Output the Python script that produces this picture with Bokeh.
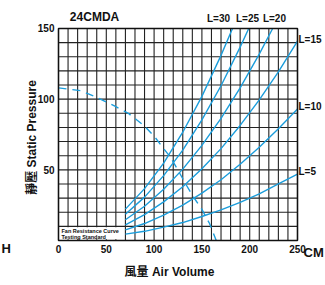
from bokeh.plotting import figure
from bokeh.models import Range1d, Label, FixedTicker
from bokeh.embed import file_html
from bokeh.resources import INLINE

# ---- data ----
x_ticks = [0, 50, 100, 150, 200, 250]
y_ticks = [50, 100, 150]
x_grid = list(range(0, 251, 10))
y_grid = list(range(0, 151, 10))
X_MAX = 250
Y_MAX = 150

fan_x = [0, 23, 41, 59, 73, 90, 101, 110, 117, 124, 133, 141, 150, 158, 165]
fan_y = [108, 106, 101, 95, 90, 81, 73, 65, 59, 51, 40, 31, 22, 12, 0]

l5_x = [70, 90, 110, 130, 150, 170, 190, 210, 230, 250]
l5_y = [4.5, 6.5, 9.5, 12.7, 17, 21.7, 27, 33, 40, 47]
l10_x = [70, 90, 110, 130, 150, 170, 190, 210, 230, 250]
l10_y = [7.5, 12, 18, 25, 33.5, 43, 54, 66, 79, 93]
l15_x = [70, 90, 110, 130, 150, 170, 190, 210, 230, 250]
l15_y = [11, 18.3, 27.3, 38, 50.8, 65, 81.4, 99.5, 119.3, 141]
l20_x = [70, 90, 110, 130, 150, 170, 190, 210, 224]
l20_y = [14.7, 24.2, 36.2, 50.5, 67.3, 86.4, 108, 131.9, 150]
l25_x = [70, 90, 110, 130, 150, 170, 190, 199]
l25_y = [18.6, 30.7, 45.9, 64, 85.3, 109.5, 136.8, 150]
l30_x = [70, 90, 110, 130, 150, 170, 182]
l30_y = [22.2, 36.7, 54.8, 76.6, 102, 131, 150]

curves = [(l5_x, l5_y), (l10_x, l10_y), (l15_x, l15_y),
          (l20_x, l20_y), (l25_x, l25_y), (l30_x, l30_y)]

BLUE = "#1b9ddb"
INK = "#111111"
FONT = "Liberation Sans"
CJK = "Liberation Sans, Noto Sans CJK TC"

# the frame covers the whole canvas; the chart box is 0..250 x 0..150 inside it
p = figure(width=325, height=285,
           x_range=Range1d(-60.67, 279.29), y_range=Range1d(-31.84, 169.81),
           output_backend="svg", toolbar_location=None,
           min_border=0, min_border_left=0, min_border_right=0,
           min_border_top=0, min_border_bottom=0)
p.background_fill_color = "white"
p.border_fill_color = "white"
p.outline_line_color = None
p.xgrid.visible = False
p.ygrid.visible = False

p.xaxis.ticker = FixedTicker(ticks=x_ticks)
p.yaxis.ticker = FixedTicker(ticks=y_ticks)
p.xaxis.fixed_location = 0
p.yaxis.fixed_location = 0
p.xaxis.bounds = (0, X_MAX)
p.yaxis.bounds = (0, Y_MAX)
for ax in (p.xaxis, p.yaxis):
    ax.axis_line_color = None
    ax.major_tick_line_color = None
    ax.minor_tick_line_color = None
    ax.major_tick_out = 0
    ax.major_tick_in = 0
    ax.major_label_text_font = FONT
    ax.major_label_text_font_style = "bold"
    ax.major_label_text_font_size = "10px"
    ax.major_label_text_color = INK
p.xaxis.major_label_standoff = 5
p.yaxis.major_label_standoff = 4

# grid of the chart box
p.segment(x0=x_grid, y0=[0] * len(x_grid), x1=x_grid, y1=[Y_MAX] * len(x_grid),
          line_color="#222222", line_width=1.1)
p.segment(x0=[0] * len(y_grid), y0=y_grid, x1=[X_MAX] * len(y_grid), y1=y_grid,
          line_color="#222222", line_width=1.1)
# white patch behind the small note in the bottom row
p.quad(left=[1.0], right=[62.0], bottom=[0.8], top=[9.4],
       fill_color="white", line_color=None)

for cx, cy in curves:
    p.line(cx, cy, line_color=BLUE, line_width=1.4)
p.line(fan_x, fan_y, line_color=BLUE, line_width=1.4, line_dash="8 6")

# border of the chart box
p.quad(left=[0], right=[X_MAX], bottom=[0], top=[Y_MAX],
       fill_color=None, line_color=INK, line_width=1.5)


def lab(x, y, t, size="11px", align="left", font=FONT, angle=0.0):
    p.add_layout(Label(x=x, y=y, text=t, text_font=font, text_font_style="bold",
                       text_font_size=size, text_align=align, text_baseline="middle",
                       angle=angle, text_color=INK))


lab(37.7, 157.8, "24CMDA", "12px", "center")
lab(167.4, 157.1, "L=30", "10px", "center")
lab(197.7, 157.1, "L=25", "10px", "center")
lab(225.9, 157.1, "L=20", "10px", "center")
lab(251.0, 142.2, "L=15", "10px")
lab(251.0, 94.8, "L=10", "10px")
lab(251.0, 48.8, "L=5", "10px")
lab(-59.6, -5.7, "H", "13px")
lab(256.3, -8.5, "CM", "13px")
lab(-27.2, 72.9, "靜壓 Static Pressure", "12px", "center", CJK, 1.5708)
lab(116.1, -22.6, "風量 Air Volume", "12px", "center", CJK)
lab(3.1, 6.7, "Fan Resistance Curve", "5.5px", "left")
lab(3.1, 2.5, "Testing Standard", "5.5px", "left")

open("out.html", "w").write(file_html(p, INLINE))
